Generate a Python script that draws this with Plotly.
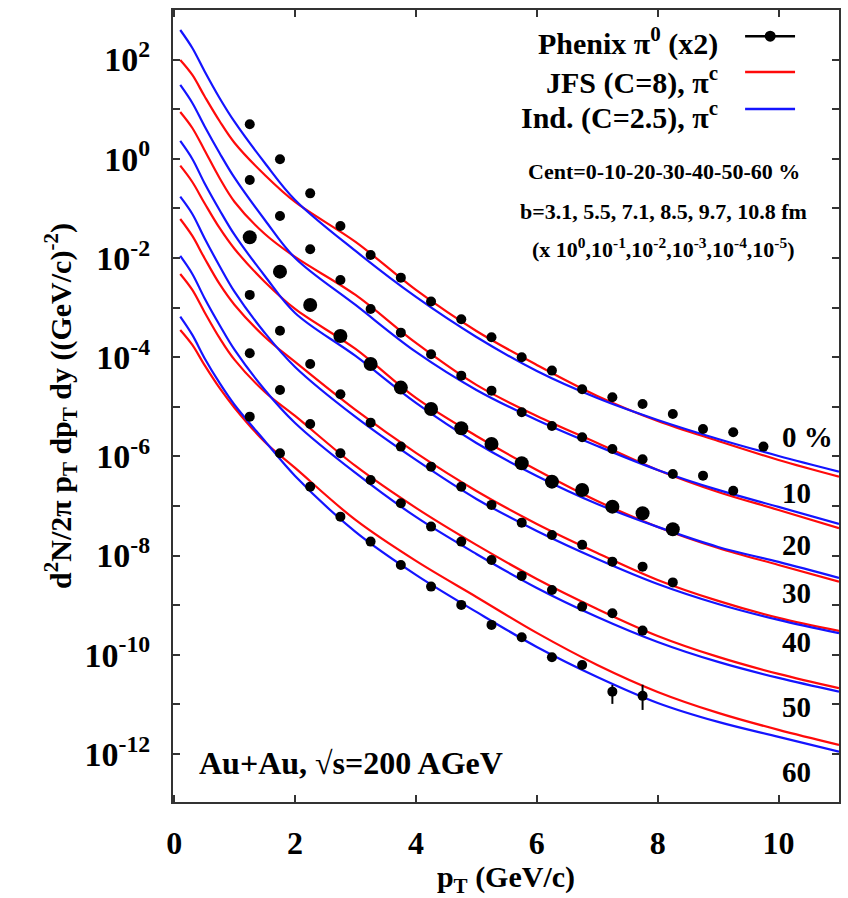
import numpy as np
import plotly.graph_objects as go

# ---------------- data ----------------
# Phenix pi0 spectra (x2), scaled by 10^0 ... 10^-5 for the six centrality bins
pt_data = [1.25, 1.75, 2.25, 2.75, 3.25, 3.75, 4.25, 4.75, 5.25, 5.75,
           6.25, 6.75, 7.25, 7.75, 8.25, 8.75, 9.25, 9.75]

phenix_00_10 = [4.97, 0.98, 0.201, 0.0442, 0.0115, 4.01e-3, 1.32e-3, 5.81e-4, 2.52e-4,
                9.95e-5, 5.35e-5, 2.25e-5, 1.56e-5, 1.14e-5, 7.16e-6, 3.56e-6, 3.06e-6, 1.57e-6]
phenix_10_20 = [0.374, 0.0703, 0.0150, 3.60e-3, 9.37e-4, 3.12e-4, 1.14e-4, 4.24e-5, 2.11e-5,
                7.74e-6, 4.10e-6, 2.43e-6, 1.41e-6, 8.74e-7, 4.42e-7, 4.08e-7, 2.03e-7]
phenix_20_30 = [0.0261, 5.30e-3, 1.13e-3, 2.67e-4, 7.29e-5, 2.43e-5, 9.03e-6, 3.69e-6, 1.78e-6,
                7.26e-7, 3.09e-7, 2.10e-7, 9.68e-8, 7.13e-8, 3.39e-8]
phenix_30_40 = [1.80e-3, 3.42e-4, 7.29e-5, 1.79e-5, 4.78e-6, 1.57e-6, 6.20e-7, 2.45e-7, 1.05e-7,
                4.60e-8, 2.60e-8, 1.64e-8, 7.53e-9, 5.97e-9, 2.87e-9]
phenix_40_50 = [1.20e-4, 2.18e-5, 4.50e-6, 1.15e-6, 3.34e-7, 1.13e-7, 3.83e-8, 1.91e-8, 8.15e-9,
                3.88e-9, 2.02e-9, 9.33e-10, 6.87e-10, 3.06e-10]
phenix_50_60 = [6.31e-6, 1.15e-6, 2.45e-7, 6.08e-8, 1.91e-8, 6.46e-9, 2.36e-9, 1.01e-9, 3.99e-10,
                2.25e-10, 8.91e-11, 6.22e-11, 1.80e-11, 1.48e-11]
phenix_50_60_err_up = [0] * 12 + [6.6e-12, 1.0e-11]
phenix_50_60_err_dn = [0] * 12 + [7.8e-12, 7.1e-12]

# model curves (charged pions), log10 of the yield on a common pT grid
pt_model = [0.1, 0.3, 0.5, 0.75, 1.0, 1.5, 2.0, 3.0, 4.0, 5.0, 6.0, 7.0, 8.0, 9.0, 10.0, 11.0]

jfs_log = [  # JFS (C=8)
    [1.992, 1.690, 1.266, 0.762, 0.319, -0.327, -0.871, -1.677, -2.645, -3.472, -4.157, -4.782, -5.286, -5.690, -6.073, -6.409],
    [0.944, 0.621, 0.177, -0.387, -0.871, -1.516, -1.980, -2.746, -3.714, -4.560, -5.185, -5.730, -6.274, -6.718, -7.081, -7.450],
    [-0.139, -0.468, -0.891, -1.395, -1.819, -2.484, -3.028, -3.835, -4.823, -5.589, -6.274, -6.899, -7.423, -7.847, -8.190, -8.526],
    [-1.214, -1.556, -2.000, -2.524, -2.948, -3.593, -4.097, -5.065, -5.931, -6.698, -7.363, -7.948, -8.492, -8.915, -9.258, -9.520],
    [-2.323, -2.645, -3.089, -3.613, -4.056, -4.702, -5.185, -6.194, -7.040, -7.786, -8.472, -9.077, -9.621, -10.044, -10.387, -10.675],
    [-3.452, -3.754, -4.157, -4.621, -5.024, -5.710, -6.234, -7.282, -8.109, -8.835, -9.560, -10.206, -10.750, -11.173, -11.516, -11.819],
]
ind_log = [  # Ind. (C=2.5)
    [2.597, 2.234, 1.770, 1.226, 0.742, -0.085, -0.831, -1.859, -2.786, -3.593, -4.278, -4.823, -5.266, -5.649, -5.992, -6.308],
    [1.488, 1.125, 0.661, 0.117, -0.387, -1.234, -2.000, -2.948, -3.895, -4.661, -5.266, -5.790, -6.274, -6.677, -7.020, -7.363],
    [0.359, -0.004, -0.488, -1.032, -1.536, -2.363, -3.109, -3.976, -4.923, -5.730, -6.395, -6.960, -7.423, -7.827, -8.129, -8.452],
    [-0.764, -1.113, -1.597, -2.161, -2.685, -3.512, -4.198, -5.206, -6.073, -6.859, -7.504, -8.069, -8.573, -8.976, -9.298, -9.567],
    [-1.960, -2.323, -2.806, -3.351, -3.855, -4.661, -5.327, -6.335, -7.222, -7.968, -8.653, -9.238, -9.742, -10.145, -10.468, -10.744],
    [-3.183, -3.552, -4.016, -4.520, -4.964, -5.690, -6.395, -7.524, -8.391, -9.137, -9.843, -10.448, -10.972, -11.355, -11.657, -11.954],
]

cent_labels = ["0 %", "10", "20", "30", "40", "50", "60"]
x_ticks = [0, 2, 4, 6, 8, 10]
y_major_exponents = [-12, -10, -8, -6, -4, -2, 0, 2]
y_minor_exponents = [-11, -9, -7, -5, -3, -1, 1]

# ---------------- styling ----------------
RED = "rgb(255,10,10)"
BLUE = "rgb(20,20,255)"
FONT = "Liberation Serif"

fig = go.Figure()

for k in range(6):
    fig.add_trace(go.Scatter(x=pt_model, y=np.power(10.0, jfs_log[k]), mode="lines",
                             line=dict(color=RED, width=2.2, shape="spline", smoothing=1.0),
                             showlegend=False))
    fig.add_trace(go.Scatter(x=pt_model, y=np.power(10.0, ind_log[k]), mode="lines",
                             line=dict(color=BLUE, width=2.2, shape="spline", smoothing=1.0),
                             showlegend=False))

phenix = [phenix_00_10, phenix_10_20, phenix_20_30, phenix_30_40, phenix_40_50, phenix_50_60]
for k, vals in enumerate(phenix):
    size = 14 if k == 2 else 10
    err = None
    if k == 5:
        err = dict(type="data", array=phenix_50_60_err_up, arrayminus=phenix_50_60_err_dn,
                   symmetric=False, color="black", thickness=2, width=0)
    fig.add_trace(go.Scatter(x=pt_data[:len(vals)], y=vals, mode="markers",
                             marker=dict(color="black", size=size, line=dict(width=0)),
                             error_y=err, showlegend=False))

fig.update_layout(
    width=848, height=898,
    margin=dict(l=173, r=7, t=10, b=96),
    paper_bgcolor="white", plot_bgcolor="white",
    font=dict(family=FONT, color="black", weight="bold"),
    showlegend=False,
)
fig.update_xaxes(
    range=[-0.02, 11.0], tickvals=x_ticks, ticks="inside", ticklen=7, tickwidth=1.5,
    tickcolor="#333", showline=True, linecolor="#333", linewidth=2, mirror="allticks",
    showgrid=False, zeroline=False, ticklabelstandoff=12,
    tickfont=dict(family=FONT, size=32, weight="bold"),
    title=dict(text="p<sub>T</sub> (GeV/c)", font=dict(family=FONT, size=30, weight="bold"),
               standoff=2),
)
fig.update_yaxes(
    type="log", range=[-12.97, 3.0], tickvals=[10.0 ** e for e in y_major_exponents],
    ticktext=[f"10<sup>{e}</sup>" for e in y_major_exponents],
    ticks="inside", ticklen=7, tickwidth=1.5, tickcolor="#333",
    minor=dict(tickvals=[10.0 ** e for e in y_minor_exponents], ticks="inside", ticklen=7,
               tickwidth=1.5, tickcolor="#333", showgrid=False),
    showline=True, linecolor="#333", linewidth=2, mirror="allticks", showgrid=False,
    zeroline=False, ticklabelstandoff=14,
    tickfont=dict(family=FONT, size=34, weight="bold"),
    title=dict(text="d<sup>2</sup>N/2π p<sub>T</sub> dp<sub>T</sub> dy ((GeV/c)<sup>-2</sup>)",
               font=dict(family=FONT, size=30, weight="bold"), standoff=4),
)

# legend drawn at the top right: label text on the left, sample on the right
legend_rows = [
    ("Phenix π<sup>0</sup> (x2)", "black", 0.9596, 0.967),
    ("JFS (C=8), π<sup>c</sup>", RED, 0.9116, 0.9217),
    ("Ind. (C=2.5), π<sup>c</sup>", BLUE, 0.8665, 0.875),
]
for text, color, ty, ly in legend_rows:
    fig.add_annotation(xref="paper", yref="paper", x=0.822, y=ty, xanchor="right",
                       yanchor="middle", text=text, showarrow=False,
                       font=dict(family=FONT, size=30, weight="bold", color="black"))
    fig.add_shape(type="line", xref="paper", yref="paper", x0=0.859, x1=0.934, y0=ly, y1=ly,
                  line=dict(color=color, width=2.5))
fig.add_shape(type="circle", xref="paper", yref="paper", xsizemode="pixel",
              ysizemode="pixel", xanchor=0.8967, yanchor=0.967, x0=-5.5, x1=5.5,
              y0=-5.5, y1=5.5, fillcolor="black", line=dict(color="black", width=0))

info_rows = [
    ("Cent=0-10-20-30-40-50-60 %", 0.7955),
    ("b=3.1, 5.5, 7.1, 8.5, 9.7, 10.8 fm", 0.745),
    ("(x 10<sup>0</sup>,10<sup>-1</sup>,10<sup>-2</sup>,10<sup>-3</sup>,10<sup>-4</sup>,10<sup>-5</sup>)", 0.6995),
]
for text, ty in info_rows:
    fig.add_annotation(xref="paper", yref="paper", x=0.7365, y=ty, xanchor="center",
                       yanchor="middle", text=text, showarrow=False,
                       font=dict(family=FONT, size=22, weight="bold"))

label_y = [0.4612, 0.3902, 0.3245, 0.2639, 0.202, 0.12, 0.0379]
for text, ty in zip(cent_labels, label_y):
    fig.add_annotation(xref="paper", yref="paper", x=0.911, y=ty, xanchor="left",
                       yanchor="middle", text=text, showarrow=False,
                       font=dict(family=FONT, size=29, weight="bold"))

fig.add_annotation(xref="paper", yref="paper", x=0.0355, y=0.0492, xanchor="left",
                   yanchor="middle", text="Au+Au, √s=200 AGeV", showarrow=False,
                   font=dict(family=FONT, size=32, weight="bold"))

fig.write_html("out.html")
